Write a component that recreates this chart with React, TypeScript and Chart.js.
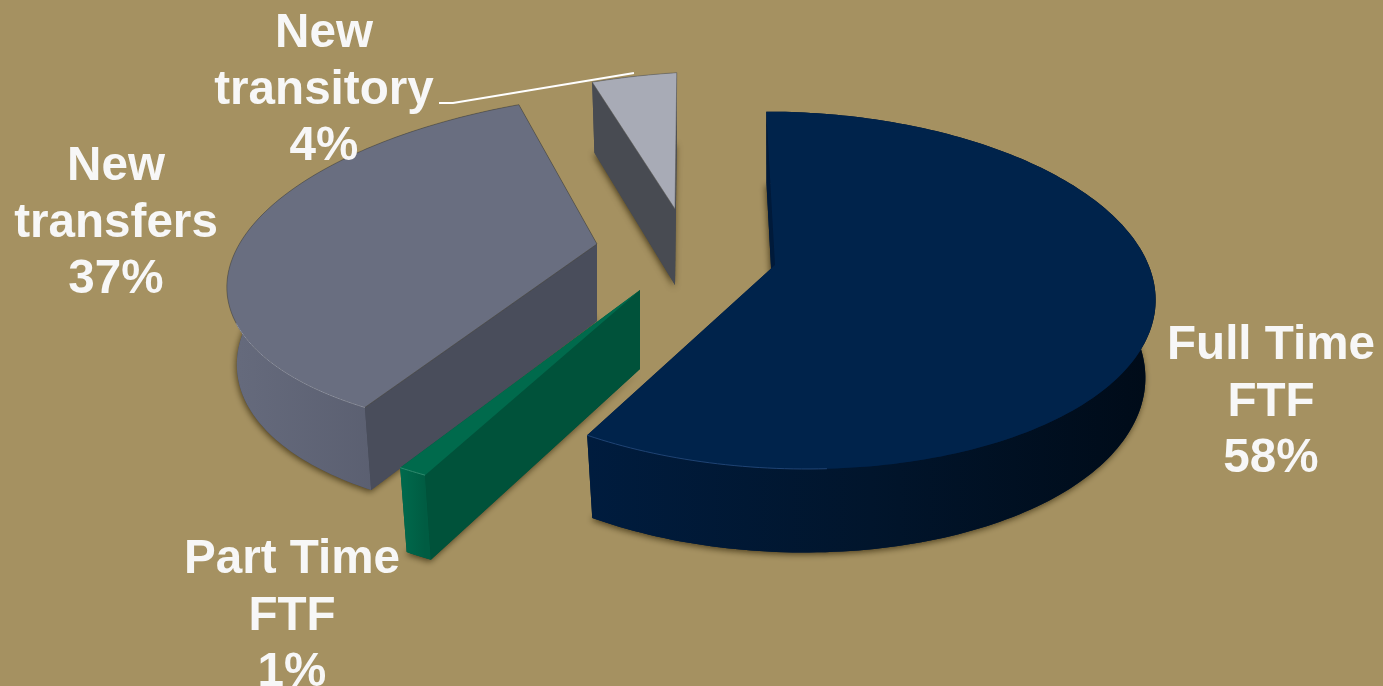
import { useEffect, useRef } from "react";
import { Chart, registerables } from "chart.js";

Chart.register(...registerables);

// Enrolment mix, in percent
const categories = ["Full Time FTF", "Part Time FTF", "New transfers", "New transitory"];
const shares = [58, 1, 37, 4];
const labelLines = [
  ["Full Time", "FTF"],
  ["Part Time", "FTF"],
  ["New", "transfers"],
  ["New", "transitory"],
];

const BACKGROUND = "#a59161";
const TEXT_COLOR = "#f7f7f7";
const TEXT_FONT = 'bold 47.6px "Liberation Sans", Arial, sans-serif';
const LINE_STEP = 56.5;

// Per-slice projection of the unit pie onto the tilted plane
const projections = [
  { cx: 775, cy: 265, a: 365, b: 175, sx: 10, sy: 4, k: 0.141, m: 0.027, depth: 77 },
  { cx: 640, cy: 290, a: 423, b: 190, sx: 12, sy: 0, k: 0.115, m: 0, depth: 79 },
  { cx: 597, cy: 244, a: 392, b: 168, sx: -9.6, sy: -22, k: 0.115, m: 0.069, depth: 77 },
  { cx: 675, cy: 209, a: 378, b: 152, sx: -2, sy: -25, k: 0.115, m: 0, depth: 76 },
];

const faceStyles = [
  { top: "#00234b", radial: "#001a3a", outer: ["#001c3e", "#01152c", "#000b18"], edge: "", rim: "#1f4373", rimMaxX: 0.1 },
  { top: "#006a4c", radial: "#00523a", outer: ["#006a4d", "#005c42"], edge: "", rim: "#2f8a6e", rimMaxX: 1 },
  { top: "#696e80", radial: "#494d5b", outer: ["#666b7d", "#505465"], edge: "rgba(70,66,50,0.5)", rim: "#8a8fa1", rimMaxX: 1 },
  { top: "#a8abb6", radial: "#484b52", outer: ["#484b52", "#484b52"], edge: "rgba(90,88,80,0.5)", rim: "", rimMaxX: 1 },
];

// Slice label anchors: horizontal centre and middle of the first line
const labelAnchors = [
  { x: 1271, y: 346 },
  { x: 292, y: 560 },
  { x: 116, y: 167 },
  { x: 324, y: 34 },
];

const leaderLine = [
  [439, 103],
  [453, 103],
  [634, 73],
];

const DEPTH_PERSPECTIVE = 0.135;
const FLOOR_SCALE = 0.973;

type Pt = [number, number];
type Proj = (typeof projections)[number];

function project(p: Proj, t: number): Pt {
  const X = Math.cos(t);
  const Y = Math.sin(t);
  const w = 1 - p.k * Y - p.m * X;
  return [p.cx + (p.a * X + p.sx * Y) / w, p.cy + (p.b * Y + p.sy * X) / w];
}

function floorOf(p: Proj, pt: Pt, Y: number): Pt {
  const drop = p.depth / (1 - DEPTH_PERSPECTIVE * Y);
  return [p.cx + (pt[0] - p.cx) * FLOOR_SCALE, p.cy + (pt[1] - p.cy) * FLOOR_SCALE + drop];
}

function fillPoly(ctx: CanvasRenderingContext2D, pts: Pt[], fill: string | CanvasGradient) {
  ctx.beginPath();
  pts.forEach(([x, y], i) => (i ? ctx.lineTo(x, y) : ctx.moveTo(x, y)));
  ctx.closePath();
  ctx.fillStyle = fill;
  ctx.fill();
}

const extrudedPie = {
  id: "extrudedPie",
  beforeDatasetsDraw(chart: Chart) {
    const ctx = chart.ctx;
    const arcs = chart.getDatasetMeta(0).data as any[];
    // Painter's order: far slices first, the sliver in front of the transfers slice last
    for (const idx of [3, 0, 2, 1]) {
      const { startAngle, endAngle } = arcs[idx].getProps(["startAngle", "endAngle"], true);
      const p = projections[idx];
      const s = faceStyles[idx];
      const steps = Math.max(6, Math.ceil((endAngle - startAngle) / 0.02));
      const angles: number[] = [];
      for (let i = 0; i <= steps; i++) angles.push(startAngle + ((endAngle - startAngle) * i) / steps);
      const rim = angles.map((t) => project(p, t));
      const floor = rim.map((pt, i) => floorOf(p, pt, Math.sin(angles[i])));
      const apex: Pt = [p.cx, p.cy];
      const apexFloor = floorOf(p, apex, 0);

      // Soft contact shadow around the underside
      ctx.save();
      ctx.shadowColor = "rgba(50,38,10,0.75)";
      ctx.shadowBlur = 6;
      ctx.shadowOffsetX = -1;
      ctx.shadowOffsetY = 2;
      fillPoly(ctx, [apexFloor, ...floor], s.radial);
      ctx.restore();

      // Far cut wall, then the curved outer wall, then the near cut wall
      fillPoly(ctx, [apex, rim[steps], floor[steps], apexFloor], s.radial);
      const xs = rim.map((q) => q[0]);
      const grad = ctx.createLinearGradient(Math.min(...xs), 0, Math.max(...xs), 0);
      s.outer.forEach((c, i) => grad.addColorStop(i / (s.outer.length - 1), c));
      fillPoly(ctx, [...rim, ...[...floor].reverse()], grad);
      fillPoly(ctx, [apex, rim[0], floor[0], apexFloor], s.radial);

      // Top face
      fillPoly(ctx, [apex, ...rim], s.top);
      if (s.edge) {
        ctx.strokeStyle = s.edge;
        ctx.lineWidth = 1;
        ctx.stroke();
      }

      // Light catching the front rim
      if (s.rim) {
        ctx.beginPath();
        let open = false;
        rim.forEach((q, i) => {
          if (Math.sin(angles[i]) > 0.35 && Math.cos(angles[i]) < s.rimMaxX) {
            if (open) ctx.lineTo(q[0], q[1]);
            else ctx.moveTo(q[0], q[1]);
            open = true;
          }
        });
        ctx.strokeStyle = s.rim;
        ctx.lineWidth = 1;
        ctx.stroke();
      }
    }
    return false;
  },
  afterDraw(chart: Chart) {
    const ctx = chart.ctx;
    ctx.save();
    ctx.beginPath();
    leaderLine.forEach(([x, y], i) => (i ? ctx.lineTo(x, y) : ctx.moveTo(x, y)));
    ctx.strokeStyle = "#ffffff";
    ctx.lineWidth = 2;
    ctx.stroke();

    ctx.font = TEXT_FONT;
    ctx.fillStyle = TEXT_COLOR;
    ctx.textAlign = "center";
    ctx.textBaseline = "middle";
    categories.forEach((_, i) => {
      const lines = [...labelLines[i], `${shares[i]}%`];
      lines.forEach((line, j) => {
        ctx.fillText(line, labelAnchors[i].x, labelAnchors[i].y + j * LINE_STEP);
      });
    });
    ctx.restore();
  },
};

export default function App() {
  const ref = useRef<HTMLCanvasElement>(null);

  useEffect(() => {
    const chart = new Chart(ref.current!, {
      type: "pie",
      data: {
        labels: categories,
        datasets: [{ data: shares, backgroundColor: faceStyles.map((s) => s.top), borderWidth: 0 }],
      },
      options: {
        animation: false,
        responsive: false,
        plugins: { legend: { display: false }, tooltip: { enabled: false } },
      },
      plugins: [extrudedPie],
    } as any);
    return () => chart.destroy();
  }, []);

  return (
    <div style={{ position: "fixed", left: 0, top: 0, width: 1383, height: 686, background: BACKGROUND, overflow: "hidden" }}>
      <canvas ref={ref} width={1383} height={686} style={{ display: "block" }} />
    </div>
  );
}
